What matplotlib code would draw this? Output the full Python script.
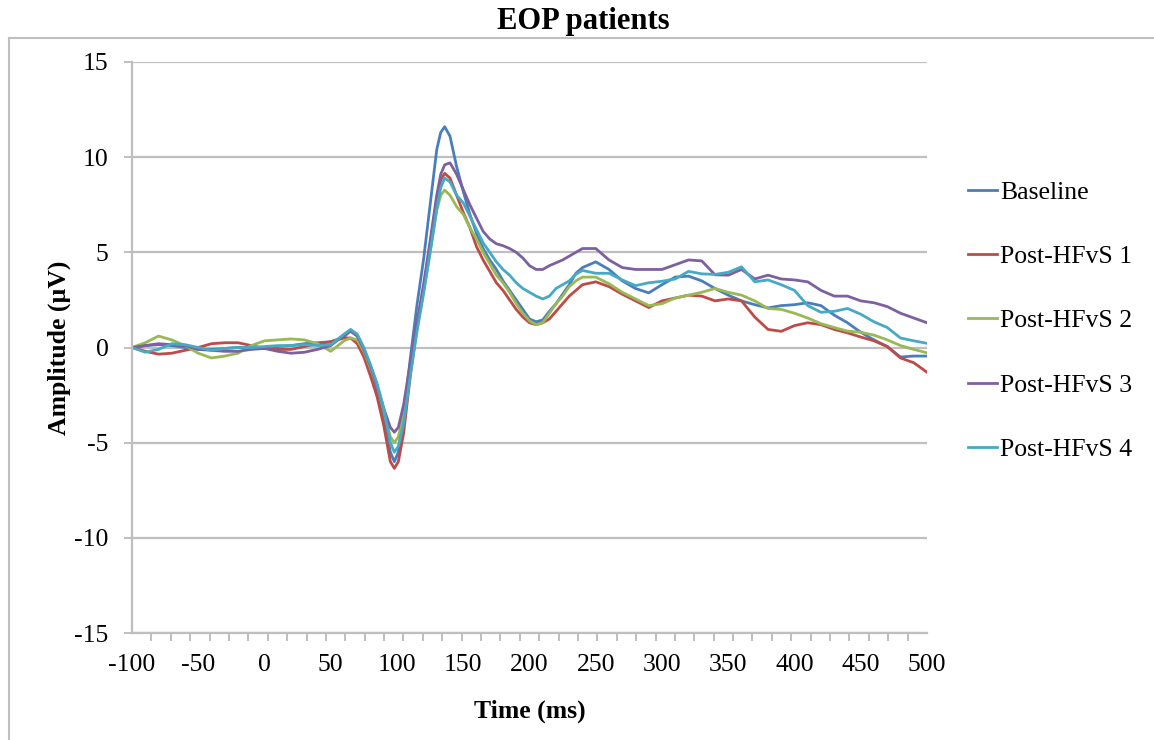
import numpy as np
import matplotlib.pyplot as plt
from matplotlib.lines import Line2D

# time points (ms)
t = [-100, -90, -80, -70, -60, -50, -40, -30, -20, -10, 0, 10, 20, 30, 40, 50, 60,
     65, 70, 75, 80, 85, 90, 95, 98, 101, 105, 110, 115, 120, 125, 130, 133, 136, 140,
     145, 150, 155, 160, 165, 170, 175, 180, 185, 190, 195, 200, 205, 210, 215, 220,
     225, 230, 235,
     240, 250, 260, 270, 280, 290, 300, 310, 320, 330, 340, 350, 360, 370, 380, 390,
     400, 410, 420, 430, 440, 450, 460, 470, 480, 490, 500]

baseline = [0, 0.1, 0.15, 0.1, 0, -0.1, -0.1, -0.05, 0, 0, 0, 0.05, 0.1, 0.2, 0.25, 0.3, 0.55,
            0.9, 0.6, -0.2, -1.1, -2.2, -3.6, -5.5, -6.0, -5.5, -3.6, -0.6, 2.2, 4.6, 7.5, 10.4, 11.3, 11.6, 11.1,
            9.5, 8.2, 7.0, 6.0, 5.2, 4.6, 4.1, 3.5, 3.0, 2.5, 2.0, 1.5, 1.35, 1.45, 1.9, 2.3,
            2.8, 3.3, 3.9,
            4.2, 4.5, 4.1, 3.5, 3.1, 2.87, 3.3, 3.7, 3.75, 3.5, 3.1, 2.75, 2.45, 2.25, 2.08, 2.2,
            2.25, 2.35, 2.2, 1.7, 1.3, 0.8, 0.4, 0.05, -0.5, -0.45, -0.45]

post1 = [0, -0.2, -0.35, -0.3, -0.15, 0, 0.2, 0.25, 0.25, 0.1, -0.05, -0.1, -0.1, 0.05, 0.2, 0.3, 0.5,
         0.5, 0.2, -0.5, -1.5, -2.6, -4.1, -6.0, -6.35, -6.0, -4.5, -1.5, 1.0, 3.0, 5.4, 7.8, 8.8, 9.15, 8.9,
         8.0, 7.1, 6.3, 5.3, 4.6, 4.0, 3.4, 3.0, 2.5, 2.0, 1.6, 1.3, 1.2, 1.3, 1.5, 1.9,
         2.3, 2.7, 3.0,
         3.3, 3.45, 3.2, 2.8, 2.45, 2.1, 2.45, 2.6, 2.75, 2.7, 2.45, 2.55, 2.45, 1.6, 0.95, 0.85,
         1.15, 1.3, 1.2, 0.95, 0.77, 0.55, 0.35, 0.05, -0.55, -0.8, -1.3]

post2 = [0, 0.25, 0.6, 0.4, 0.1, -0.3, -0.55, -0.45, -0.3, 0.1, 0.35, 0.4, 0.45, 0.4, 0.2, -0.2, 0.35,
         0.5, 0.4, -0.2, -1.1, -2.0, -3.3, -4.7, -5.0, -4.7, -3.5, -1.2, 1.0, 2.9, 5.0, 7.2, 8.0, 8.27, 8.0,
         7.4, 7.0, 6.3, 5.7, 5.0, 4.4, 3.8, 3.4, 2.9, 2.3, 1.8, 1.4, 1.2, 1.3, 1.8, 2.3,
         2.7, 3.2, 3.5,
         3.7, 3.7, 3.35, 2.9, 2.55, 2.2, 2.3, 2.6, 2.75, 2.9, 3.1, 2.9, 2.75, 2.45, 2.05, 2.0,
         1.8, 1.55, 1.25, 1.05, 0.86, 0.8, 0.65, 0.4, 0.1, -0.1, -0.28]

post3 = [0, 0.1, 0.2, 0.15, 0.1, -0.1, -0.15, -0.2, -0.2, -0.1, -0.05, -0.2, -0.3, -0.25, -0.1, 0.1, 0.65,
         0.85, 0.6, -0.1, -1.0, -2.0, -3.2, -4.2, -4.45, -4.2, -3.0, -0.8, 1.3, 3.3, 5.6, 8.0, 9.1, 9.6, 9.7,
         9.1, 8.3, 7.5, 6.8, 6.1, 5.7, 5.45, 5.35, 5.2, 5.0, 4.7, 4.3, 4.1, 4.1, 4.3, 4.45,
         4.6, 4.8, 5.0,
         5.2, 5.2, 4.6, 4.2, 4.1, 4.1, 4.1, 4.35, 4.6, 4.55, 3.82, 3.8, 4.1, 3.6, 3.8, 3.6,
         3.55, 3.45, 3.0, 2.7, 2.7, 2.45, 2.35, 2.15, 1.8, 1.55, 1.3]

post4 = [0, -0.25, -0.1, 0.2, 0.15, 0, -0.15, -0.05, 0, 0, 0.05, 0.1, 0.1, 0.15, 0.1, 0.15, 0.7,
         0.95, 0.7, 0, -0.9, -1.9, -3.2, -5.0, -5.5, -5.2, -4.0, -1.5, 0.8, 2.8, 5.0, 7.3, 8.4, 8.9, 8.7,
         8.0, 7.6, 6.9, 6.2, 5.5, 5.0, 4.5, 4.1, 3.8, 3.4, 3.1, 2.9, 2.7, 2.55, 2.7, 3.1,
         3.3, 3.5, 3.85,
         4.05, 3.9, 3.9, 3.55, 3.25, 3.4, 3.48, 3.6, 4.0, 3.87, 3.84, 3.95, 4.24, 3.45, 3.55, 3.3,
         3.0, 2.2, 1.85, 1.9, 2.05, 1.75, 1.35, 1.05, 0.5, 0.35, 0.22]

labels = ['Baseline', 'Post-HFvS 1', 'Post-HFvS 2', 'Post-HFvS 3', 'Post-HFvS 4']
colors = ['#4A7EBB', '#BE4B48', '#98B954', '#7D60A0', '#46AAC5']
yticks = [-15, -10, -5, 0, 5, 10, 15]
xticks = [-100, -50, 0, 50, 100, 150, 200, 250, 300, 350, 400, 450, 500]

plt.rcParams['font.family'] = ['Liberation Serif', 'DejaVu Serif']
plt.rcParams['axes.unicode_minus'] = False
grey = '#BFBFBF'

fig = plt.figure(figsize=(11.54, 7.4), dpi=100)
ax = fig.add_axes([132/1154, 1 - 633/740, 795/1154, 571/740])

for ys, lab, c in zip([baseline, post1, post2, post3, post4], labels, colors):
    ax.plot(t, ys, color=c, lw=2.0, label=lab)

ax.set_xlim(-100, 500)
ax.set_ylim(-15, 15)
ax.set_yticks(yticks)
ax.set_xticks(xticks)
ax.set_xticks(np.arange(41) * 600 / 41 - 100, minor=True)
ax.grid(axis='y', color=grey, lw=1.6)
ax.set_axisbelow(True)
for s in ['top', 'right']:
    ax.spines[s].set_visible(False)
for s in ['left', 'bottom']:
    ax.spines[s].set_color(grey)
    ax.spines[s].set_linewidth(1.6)
ax.tick_params(axis='y', length=6, width=1.4, color=grey, pad=11, labelsize=18.5)
ax.tick_params(axis='x', which='major', length=0, pad=15, labelsize=18.5)
ax.tick_params(axis='x', which='minor', length=6, width=1.4, color=grey)

ax.set_xlabel('Time (ms)', fontsize=18.5, fontweight='bold', labelpad=17)
ax.set_ylabel('Amplitude (µV)', fontsize=18.5, fontweight='bold', labelpad=2)

fig.text(583/1154, 1 - 21/740, 'EOP patients', ha='center', va='center',
         fontsize=22, fontweight='bold')

fig.legend(loc='upper left', bbox_to_anchor=(958/1154, 1 - 171/740), frameon=False,
           fontsize=18.5, handlelength=1.1, handletextpad=0.15, labelspacing=1.6,
           borderaxespad=0)

# outer chart border (left and top edges visible)
fig.add_artist(Line2D([9/1154, 9/1154], [0, 1 - 38/740], color=grey, lw=1.5))
fig.add_artist(Line2D([9/1154, 1], [1 - 38/740, 1 - 38/740], color=grey, lw=1.5))

fig.savefig('out.png')
